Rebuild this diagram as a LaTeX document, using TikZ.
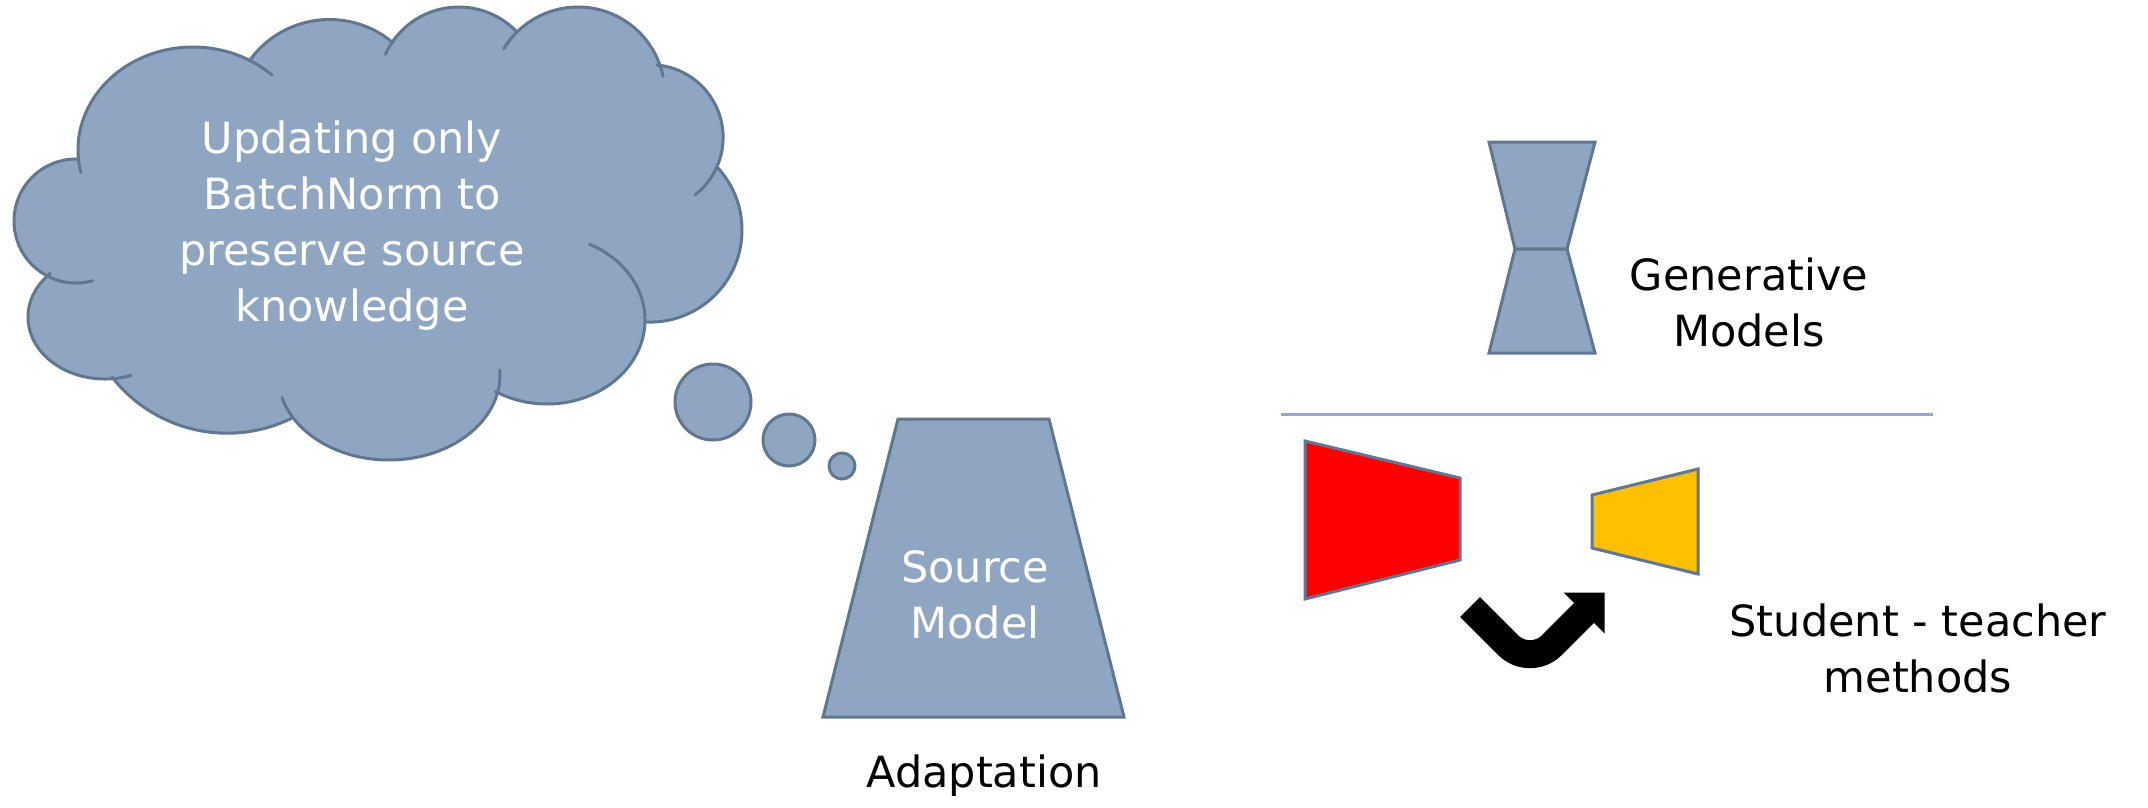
\documentclass[tikz,border=0pt]{standalone}
\usepackage{fontspec}
\setmainfont{DejaVu Sans}
\usetikzlibrary{calc}

\definecolor{slatefill}{RGB}{142,166,194}
\definecolor{slateline}{RGB}{97,118,143}
\definecolor{rulecol}{RGB}{146,170,212}
\definecolor{teachred}{RGB}{255,0,0}
\definecolor{studentgold}{RGB}{255,192,0}

\begin{document}
\begin{tikzpicture}[x=1pt, y=1pt, yscale=-1,
  modelbox/.style={fill=slatefill, draw=slateline, line width=3pt},
  netbox/.style={draw=slateline, line width=3pt},
  cloudline/.style={draw=slateline, line width=3pt, line cap=round},
  bubble/.style={circle, fill=slatefill, draw=slateline, line width=3pt, inner sep=0pt},
  bigtext/.style={font=\fontsize{43}{56}\selectfont, align=center, inner sep=0pt},
]
\useasboundingbox (0,0) rectangle (2148,807);
\fill[white] (0,0) rectangle (2148,807);

% ---- thought cloud: lobe centres ----
\coordinate (cUL) at (193,150);
\coordinate (cT1) at (329.5,117.9);
\coordinate (cT2) at (458.7,87.4);
\coordinate (cT3) at (578,93.8);
\coordinate (cR1) at (650.3,137.5);
\coordinate (cR2) at (649.9,230);
\coordinate (cBR) at (547,320);
\coordinate (cBC) at (389,375);
\coordinate (cBL) at (227.2,287.1);
\coordinate (cLL) at (105,317);
\coordinate (cL)  at (76,221);

% cloud body
\fill[slatefill]
  ($(cUL)+(175.5:115 and 103)$) arc[start angle=175.5, end angle=299.6, x radius=115, y radius=103]
  -- ($(cT1)+(216.1:98.4)$) arc[start angle=216.1, end angle=309.5, radius=98.4]
  -- ($(cT2)+(212.7:80.4)$) arc[start angle=212.7, end angle=316.5, radius=80.4]
  -- ($(cT3)+(225.4:86.8)$) arc[start angle=225.4, end angle=340.6, radius=86.8]
  -- ($(cR1)+(275.3:72.8)$) arc[start angle=275.3, end angle=384.3, radius=72.8]
  -- ($(cR2)+(317.7:92.1)$) arc[start angle=317.7, end angle=451.8, radius=92.1]
  -- ($(cBR)+(1:98 and 84)$) arc[start angle=1, end angle=121.8, x radius=98, y radius=84]
  -- ($(cBC)+(11.8:111 and 85)$) arc[start angle=11.8, end angle=149.9, x radius=111, y radius=85]
  -- ($(cBL)+(63.7:146.1)$) arc[start angle=63.7, end angle=142, radius=146.1]
  -- ($(cLL)+(86.2:77 and 62)$) arc[start angle=86.2, end angle=224.8, x radius=77, y radius=62]
  -- ($(cL)+(117:62)$) arc[start angle=117, end angle=271.8, radius=62]
  -- cycle;

% cloud outline, each lobe running a little past its joints
\draw[cloudline] ($(cUL)+(167.4:115 and 103)$) arc[start angle=167.4, end angle=313.3, x radius=115, y radius=103];
\draw[cloudline] ($(cT1)+(216.1:98.4)$) arc[start angle=216.1, end angle=309.5, radius=98.4];
\draw[cloudline] ($(cT2)+(204.3:80.4)$) arc[start angle=204.3, end angle=316.5, radius=80.4];
\draw[cloudline] ($(cT3)+(211.4:86.8)$) arc[start angle=211.4, end angle=348.4, radius=86.8];
\draw[cloudline] ($(cR1)+(275.3:72.8)$) arc[start angle=275.3, end angle=412.1, radius=72.8];
\draw[cloudline] ($(cR2)+(317.7:92.1)$) arc[start angle=317.7, end angle=451.8, radius=92.1];
\draw[cloudline] ($(cBR)+(295.7:98 and 84)$) arc[start angle=295.7, end angle=481.8, x radius=98, y radius=84];
\draw[cloudline] ($(cBC)+(-3.4:111 and 85)$) arc[start angle=-3.4, end angle=164.6, x radius=111, y radius=85];
\draw[cloudline] ($(cBL)+(63.7:146.1)$) arc[start angle=63.7, end angle=142, radius=146.1];
\draw[cloudline] ($(cLL)+(70.2:77 and 62)$) arc[start angle=70.2, end angle=224.8, x radius=77, y radius=62];
\draw[cloudline] ($(cL)+(74.4:62)$) arc[start angle=74.4, end angle=271.8, radius=62];

\node[bigtext, text=white] (thought) at (352,226)
  {Updating only\\BatchNorm to\\preserve source\\knowledge};

% trailing bubbles
\node[bubble, minimum size=76pt] (b1) at (713,402) {};
\node[bubble, minimum size=52pt] (b2) at (789,440) {};
\node[bubble, minimum size=26pt] (b3) at (842,466) {};

% ---- source model ----
\coordinate (smTL) at (898,419);
\coordinate (smTR) at (1049,419);
\coordinate (smBR) at (1124,717);
\coordinate (smBL) at (823,717);
\draw[modelbox] (smTL) -- (smTR) -- (smBR) -- (smBL) -- cycle;
\node[bigtext, text=white] (smtext) at (975,595) {Source\\Model};
\node[bigtext] (adapt) at (984,776) {Adaptation};

% ---- generative model (hourglass) ----
\coordinate (gTL) at (1489,142);
\coordinate (gTR) at (1595,142);
\coordinate (gMR) at (1567,249);
\coordinate (gML) at (1515,249);
\coordinate (gBR) at (1595,353);
\coordinate (gBL) at (1489,353);
\draw[modelbox] (gTL) -- (gTR) -- (gMR) -- (gML) -- cycle;
\draw[modelbox] (gML) -- (gMR) -- (gBR) -- (gBL) -- cycle;
\node[bigtext] (gen) at (1749,302) {Generative\\Models};

% separator
\coordinate (ruleL) at (1281,414);
\coordinate (ruleR) at (1933,414);
\draw[rulecol, line width=3pt] (ruleL) -- (ruleR);

% ---- teacher / student ----
\coordinate (tA) at (1305,441);
\coordinate (tB) at (1460,478);
\coordinate (tC) at (1460,560);
\coordinate (tD) at (1305,599);
\draw[netbox, fill=teachred] (tA) -- (tB) -- (tC) -- (tD) -- cycle;

\coordinate (sA) at (1592,495);
\coordinate (sB) at (1698,469);
\coordinate (sC) at (1698,574);
\coordinate (sD) at (1592,548);
\draw[netbox, fill=studentgold] (sA) -- (sB) -- (sC) -- (sD) -- cycle;

% bent transfer arrow
\coordinate (aS) at (1470,607);
\coordinate (aK) at (1530,667);
\coordinate (aM) at (1588,609);
\coordinate (aH1) at (1563.5,592.5);
\coordinate (aT) at (1604.5,592.5);
\coordinate (aH2) at (1604.5,633.5);
\draw[black, line width=28pt, rounded corners=31pt] (aS) -- (aK) -- (aM);
\fill[black] (aH1) -- (aT) -- (aH2) -- cycle;

\node[bigtext] (st) at (1918,648) {Student - teacher\\methods};
\end{tikzpicture}
\end{document}
